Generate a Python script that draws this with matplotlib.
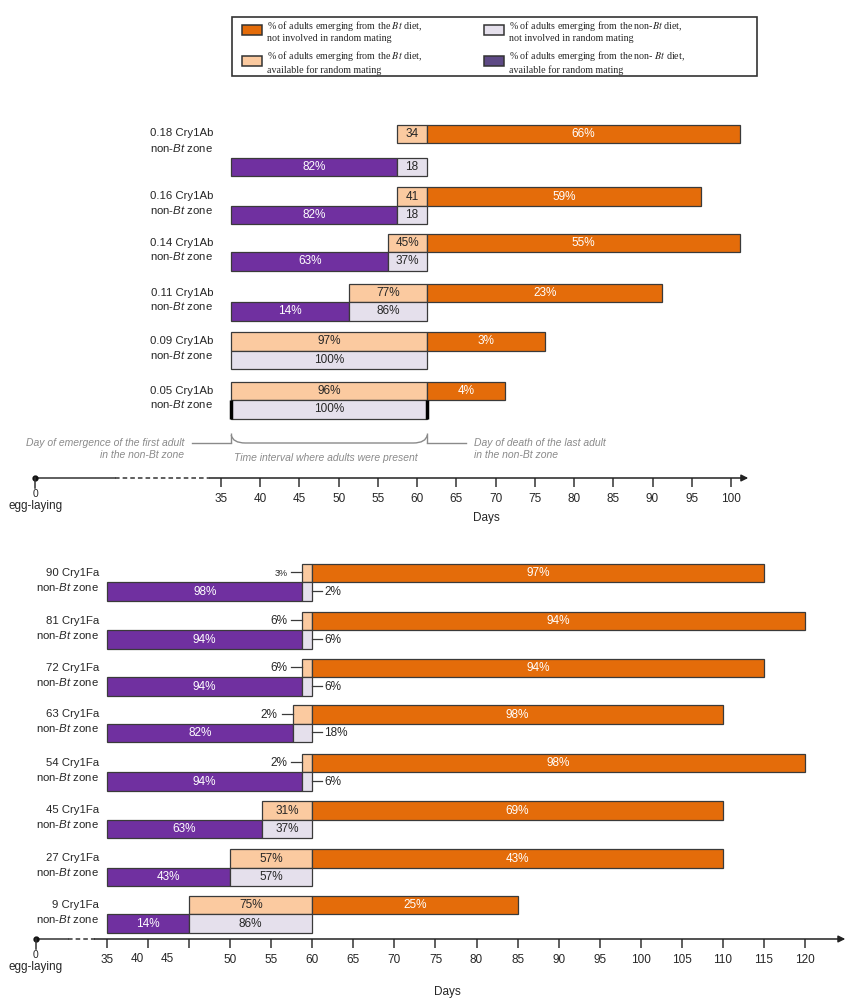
import matplotlib.pyplot as plt
from matplotlib.patches import Rectangle, PathPatch
from matplotlib.path import Path

plt.rcParams['font.family'] = ['Liberation Sans', 'DejaVu Sans']
plt.rcParams['mathtext.fontset'] = 'custom'
plt.rcParams['mathtext.rm'] = 'Liberation Sans'
plt.rcParams['mathtext.it'] = 'Liberation Sans:italic'

# ---- data: Cry1Ab (top panel), days after egg-laying
ab_rows = ['0.18 Cry1Ab', '0.16 Cry1Ab', '0.14 Cry1Ab', '0.11 Cry1Ab', '0.09 Cry1Ab', '0.05 Cry1Ab']
ab_nonbt_first = 36.3   # first adult emerging in the non-Bt zone
ab_nonbt_last = 61.3    # death of last adult in the non-Bt zone
ab_bt_first = [57.4, 57.4, 56.3, 51.3, 36.3, 36.3]
ab_bt_last = [101.1, 96.2, 101.1, 91.2, 76.3, 71.2]
ab_bt_mating = ['34', '41', '45%', '77%', '97%', '96%']
ab_bt_late = ['66%', '59%', '55%', '23%', '3%', '4%']
ab_nonbt_early = ['82%', '82%', '63%', '14%', '', '']
ab_nonbt_mating = ['18', '18', '37%', '86%', '100%', '100%']
ab_ticks = list(range(35, 101, 5))

# ---- data: Cry1Fa (bottom panel)
fa_rows = ['90 Cry1Fa', '81 Cry1Fa', '72 Cry1Fa', '63 Cry1Fa', '54 Cry1Fa', '45 Cry1Fa', '27 Cry1Fa', '9 Cry1Fa']
fa_nonbt_first = 35.0
fa_nonbt_last = 60.0
fa_bt_first = [58.8, 58.8, 58.8, 57.6, 58.8, 53.9, 50.0, 45.0]
fa_bt_last = [115, 120, 115, 110, 120, 110, 110, 85]
fa_bt_mating = ['3%', '6%', '6%', '2%', '2%', '31%', '57%', '75%']
fa_bt_late = ['97%', '94%', '94%', '98%', '98%', '69%', '43%', '25%']
fa_nonbt_early = ['98%', '94%', '94%', '82%', '94%', '63%', '43%', '14%']
fa_nonbt_mating = ['2%', '6%', '6%', '18%', '6%', '37%', '57%', '86%']
fa_ticks = list(range(35, 121, 5))

# ---- layout (pixel rows) and style
W, H = 847, 1000
ab_y_bt = [134, 196.5, 243, 293, 341.5, 391]
ab_y_non = [167, 215, 261.5, 311.5, 360, 409.5]
fa_y_bt = [573, 621, 668, 714.5, 763, 810.5, 858.5, 905]
fa_y_non = [591.5, 639.5, 686.5, 733, 781.5, 829, 877, 923.5]
BAR_H = 18.6

ORANGE = '#E46C0A'
LIGHT = '#FBCAA0'
LAVENDER = '#E5E0EC'
PURPLE = '#7030A0'
EDGE = '#3a3a3a'
TXT = '#262626'
GREY = '#8a8a8a'


def draw_panel(ax, rows, y_bt, y_non, first, last, bt_first, bt_last,
               mate, late, early, nmate, small_rows=()):
    dpp = (ax.get_xlim()[1] - ax.get_xlim()[0]) / W
    for i, row in enumerate(rows):
        b0, b1 = bt_first[i], bt_last[i]
        segs = [
            (y_bt[i], b0, last, LIGHT, mate[i], TXT, 'left'),
            (y_bt[i], last, b1, ORANGE, late[i], 'white', None),
            (y_non[i], first, b0, PURPLE, early[i], 'white', None),
            (y_non[i], max(b0, first), last, LAVENDER, nmate[i], TXT, 'right'),
        ]
        for y, x0, x1, col, txt, tcol, side in segs:
            if x1 - x0 <= 0:
                continue
            ax.barh(y, x1 - x0, left=x0, height=BAR_H, color=col,
                    edgecolor=EDGE, linewidth=0.9)
            if not txt:
                continue
            if x1 - x0 > 2.5:
                ax.text((x0 + x1) / 2, y, txt, ha='center', va='center',
                        color=tcol, fontsize=8.5)
            elif side == 'left':
                fs = 6.5 if i in small_rows else 8.5
                ax.plot([x0 - 11 * dpp, x0], [y - 1, y - 1], color=EDGE, lw=0.9)
                ax.text(x0 - 15 * dpp, y, txt, ha='right', va='center',
                        color=TXT, fontsize=fs)
            else:
                ax.plot([x1, x1 + 10 * dpp], [y - 1, y - 1], color=EDGE, lw=0.9)
                ax.text(x1 + 12 * dpp, y, txt, ha='left', va='center',
                        color=TXT, fontsize=8.5)
        ax.text(34.0, y_bt[i] + 7, row + '\nnon-$\\mathit{Bt}$ zone', ha='right',
                va='center', fontsize=8.2, color=TXT, linespacing=1.3)


def draw_axis(ax, y_axis, x_dot, x_dash0, x_dash1, x_end, ticks, labels):
    for s in ax.spines.values():
        s.set_visible(False)
    ax.set_yticks([])
    ax.spines['bottom'].set_position(('data', y_axis))
    ax.set_xticks(ticks)
    ax.set_xticklabels(labels)
    ax.tick_params(axis='x', direction='out', length=6.5, width=1.1,
                   color='#333333', pad=4, labelsize=8.5, labelcolor=TXT)
    ax.plot([x_dot, x_dash0], [y_axis, y_axis], color='#333333', lw=1.1)
    ax.plot([x_dash0, x_dash1], [y_axis, y_axis], color='#333333', lw=1.1,
            ls=(0, (3, 2)))
    ax.annotate('', xy=(x_end, y_axis), xytext=(x_dash1, y_axis),
                arrowprops=dict(arrowstyle='-|>', color='#222222', lw=1.1,
                                mutation_scale=10, shrinkA=0, shrinkB=0))
    ax.plot([x_dot], [y_axis], 'o', color='#111111', ms=3.5)
    ax.plot([x_dot, x_dot], [y_axis, y_axis + 10], color='#333333', lw=1.1)
    ax.text(x_dot, y_axis + 16, '0', ha='center', va='center', fontsize=7.5, color=TXT)
    ax.text(x_dot, y_axis + 28, 'egg-laying', ha='center', va='center',
            fontsize=8.5, color=TXT)


fig = plt.figure(figsize=(W / 100, H / 100), dpi=100)

ax_top = fig.add_axes([0, 1 - 535 / H, 1, 535 / H])
ax_top.set_facecolor('none')
ax_top.set_xlim(6.83, 114.79)
ax_top.set_ylim(535, 0)

ax_bot = fig.add_axes([0, 0, 1, 465 / H])
ax_bot.set_facecolor('none')
ax_bot.set_xlim(21.97, 125.11)
ax_bot.set_ylim(1000, 535)

draw_panel(ax_top, ab_rows, ab_y_bt, ab_y_non, ab_nonbt_first, ab_nonbt_last,
           ab_bt_first, ab_bt_last, ab_bt_mating, ab_bt_late,
           ab_nonbt_early, ab_nonbt_mating)
draw_panel(ax_bot, fa_rows, fa_y_bt, fa_y_non, fa_nonbt_first, fa_nonbt_last,
           fa_bt_first, fa_bt_last, fa_bt_mating, fa_bt_late,
           fa_nonbt_early, fa_nonbt_mating, small_rows=(0,))

# thick ends on the last Cry1Ab row mark the non-Bt interval
ax_top.vlines([ab_nonbt_first, ab_nonbt_last], ab_y_non[-1] - BAR_H / 2,
              ab_y_non[-1] + BAR_H / 2, color='black', lw=2.5)

# brace under the top panel
yb = 443
d = 1.8
verts = [(ab_nonbt_first, 435), (ab_nonbt_first + 0.2, yb), (ab_nonbt_first + d, yb),
         (ab_nonbt_last - d, yb), (ab_nonbt_last - 0.2, yb), (ab_nonbt_last, 435)]
codes = [Path.MOVETO, Path.CURVE3, Path.CURVE3, Path.LINETO, Path.CURVE3, Path.CURVE3]
ax_top.add_patch(PathPatch(Path(verts, codes), fill=False, edgecolor=GREY, lw=1))
ax_top.plot([31.3, ab_nonbt_first], [yb, yb], color=GREY, lw=1)
ax_top.plot([ab_nonbt_last, 66.2], [yb, yb], color=GREY, lw=1)
ax_top.vlines([ab_nonbt_first, ab_nonbt_last], 433, yb, color=GREY, lw=1)
ax_top.text(30.3, 449, 'Day of emergence of the first adult\nin the non-Bt zone',
            ha='right', va='center', fontsize=7.5, style='italic', color=GREY,
            linespacing=1.3)
ax_top.text(67.2, 449, 'Day of death of the last adult\nin the non-Bt zone',
            ha='left', va='center', fontsize=7.5, style='italic', color=GREY,
            linespacing=1.3)
ax_top.text(48.4, 458, 'Time interval where adults were present', ha='center',
            va='center', fontsize=7.5, style='italic', color=GREY)

draw_axis(ax_top, 478, 11.3, 21.5, 33.6, 102.2, ab_ticks, [str(t) for t in ab_ticks])
ax_top.text(68.8, 518, 'Days', ha='center', va='center', fontsize=8.5, color=TXT)

fa_labels = ['' if t in (40, 45) else str(t) for t in fa_ticks]
draw_axis(ax_bot, 939, 26.35, 30.25, 33.5, 124.9, fa_ticks, fa_labels)
for t, xpos in [(40, 38.65), (45, 42.4)]:
    ax_bot.text(xpos, 959, str(t), ha='center', va='center', fontsize=8.5, color=TXT)
ax_bot.text(76.4, 992, 'Days', ha='center', va='center', fontsize=8.5, color=TXT)

# ---- legend box (figure pixel coordinates)
def fx(x):
    return x / W


def fy(y):
    return 1 - y / H


fig.add_artist(Rectangle((fx(232), fy(76)), fx(757) - fx(232), fy(17) - fy(76),
                         transform=fig.transFigure, fill=False,
                         edgecolor='#333333', lw=1.2))
legend_items = [
    (ORANGE, '% of adults emerging from the $\\mathit{Bt}$ diet,\nnot involved in random mating', 242, 31),
    (LIGHT, '% of adults emerging from the $\\mathit{Bt}$ diet,\navailable for random mating', 242, 62),
    (LAVENDER, '% of adults emerging from the non-$\\mathit{Bt}$ diet,\nnot involved in random mating', 484, 31),
    ('#5E4A85', '% of adults emerging from the non- $\\mathit{Bt}$ diet,\navailable for random mating', 484, 62),
]
for col, lab, x0, yc in legend_items:
    fig.add_artist(Rectangle((fx(x0), fy(yc + 4)), fx(20), fy(0) - fy(10),
                             transform=fig.transFigure, facecolor=col,
                             edgecolor='#333333', lw=1.1))
    t = fig.text(fx(x0 + 25), fy(yc), lab, ha='left', va='center', fontsize=7.2,
                 family=['Liberation Serif', 'DejaVu Serif'], color=TXT,
                 linespacing=1.2)
    t.set_math_fontfamily('stix')

fig.savefig('out.png', dpi=100)
